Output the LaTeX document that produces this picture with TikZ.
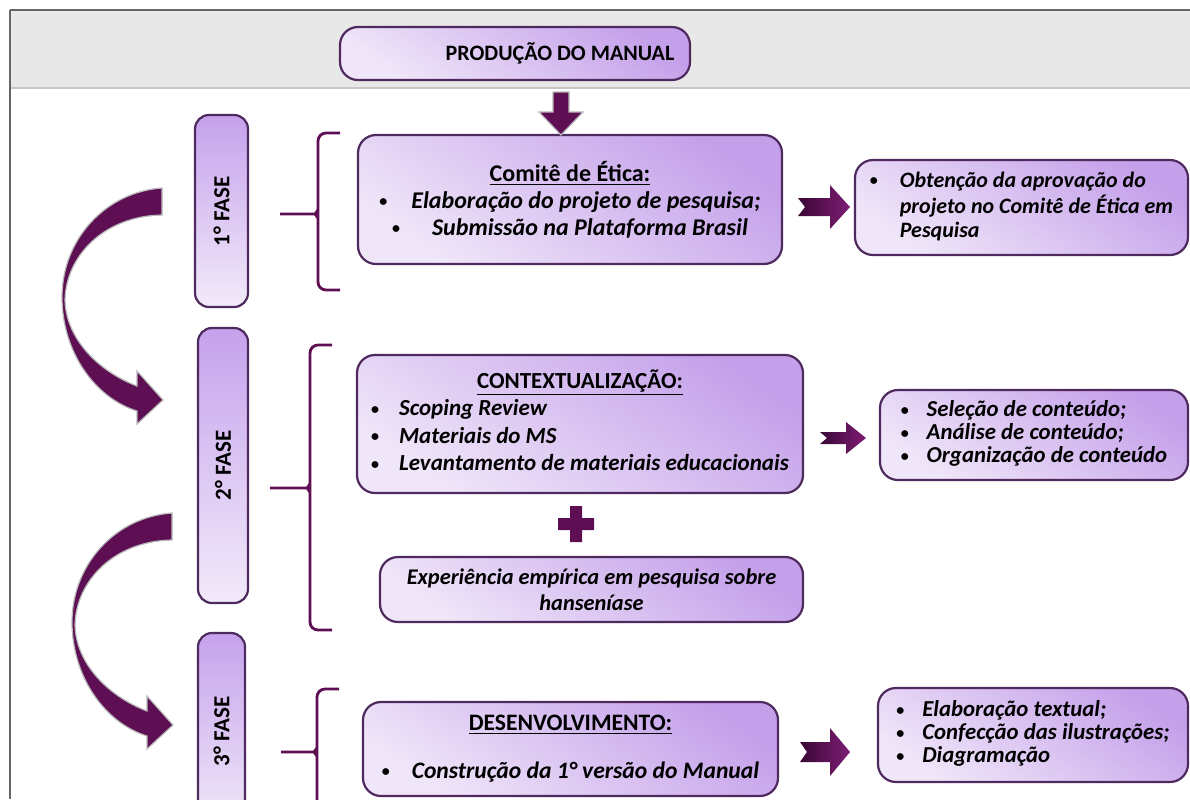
\documentclass[tikz,border=0pt]{standalone}
\usepackage{fontspec}
\setmainfont{Carlito}
\definecolor{boxline}{HTML}{4E2A5E}
\definecolor{boxlo}{HTML}{F0E6F9}
\definecolor{boxhi}{HTML}{C4A0EA}
\definecolor{faseD}{HTML}{C5A2EC}
\definecolor{faseL}{HTML}{F2EAFA}
\definecolor{arrowc}{HTML}{5E0F54}
\definecolor{arrowd}{HTML}{3A0636}
\definecolor{arrowl}{HTML}{7E1E74}
\definecolor{bandgray}{HTML}{E8E8E8}
\newcommand{\itemdot}{\raisebox{0.8pt}{\fontsize{8}{8}\selectfont\textbullet}}

\begin{document}
\begin{tikzpicture}
[x=0.5pt,y=-0.5pt,
  boxDecorate/.style={draw=boxline,line width=1.1pt,rounded corners=9pt,
    top color=boxhi,bottom color=boxlo,shading angle=-35,inner sep=0pt,
    font=\bfseries\fontsize{11}{13}\selectfont},
  faseDecorate/.style={draw=boxline,line width=1.1pt,rounded corners=7pt,rotate=90,
    top color=faseD,bottom color=faseL,inner sep=0pt,
    font=\bfseries\fontsize{11.5}{13}\selectfont},
  braceDecorate/.style={draw=arrowc,line width=1.4pt},
  arrowDecorate/.style={fill=arrowc,draw=gray!55,line width=0.6pt}]
\useasboundingbox (0,0) rectangle (1190,799);
\clip (0,0) rectangle (1190,799);
%% frame and title band
\fill[bandgray] (10,10) rectangle (1190,88);
\draw[gray!45,line width=0.8pt] (10,88) -- (1190,88);
\draw[gray!80!black,line width=0.8pt] (10,10) -- (1190,10) (10,10) -- (10,799);
%% main boxes
\node (prod) at (515,53.5) [boxDecorate,minimum width=175pt,minimum height=26.5pt,
  font=\bfseries\fontsize{11}{13}\selectfont] {\hspace*{45pt}PRODUÇÃO DO MANUAL};
\node (etica) at (570,199.5) [boxDecorate,minimum width=212pt,minimum height=64.5pt,
  align=center,font=\bfseries\fontsize{12}{13.5}\selectfont]
  {\underline{Comitê de Ética:}\\
   \itemdot\hspace{12pt}\textit{Elaboração do projeto de pesquisa;}\\
   \itemdot\hspace{16pt}\textit{Submissão na Plataforma Brasil}};
\node (aprov) at (1021.5,207.5) [boxDecorate,minimum width=166.5pt,minimum height=47.5pt,
  font=\bfseries\fontsize{11}{12}\selectfont]
  {\begin{tabular}{@{}l@{\hspace{11pt}}l@{}}
   \itemdot & \textit{Obtenção da aprovação do}\\
   & \textit{projeto no Comitê de Ética em}\\
   & \textit{Pesquisa}
   \end{tabular}\hspace{6pt}};
\node (contexto) at (580,424) [boxDecorate,minimum width=223pt,minimum height=69pt,
  font=\bfseries\fontsize{11.5}{13.8}\selectfont]
  {\begin{tabular}{@{}l@{\hspace{10pt}}l@{}}
   \multicolumn{2}{@{}c@{}}{\underline{CONTEXTUALIZAÇÃO:}}\\
   \itemdot & \textit{Scoping Review}\\
   \itemdot & \textit{Materiais do MS}\\
   \itemdot & \textit{Levantamento de materiais educacionais}
   \end{tabular}};
\node (exper) at (591.5,589.5) [boxDecorate,minimum width=211.5pt,minimum height=32.5pt,
  align=center,font=\bfseries\itshape\fontsize{11.2}{13}\selectfont]
  {Experiência empírica em pesquisa sobre\\hanseníase};
\node (selecao) at (1034,435) [boxDecorate,minimum width=154pt,minimum height=45pt,
  font=\bfseries\fontsize{11.4}{11.5}\selectfont]
  {\begin{tabular}{@{}l@{\hspace{9pt}}l@{}}
   \itemdot & \textit{Seleção de conteúdo;}\\
   \itemdot & \textit{Análise de conteúdo;}\\
   \itemdot & \textit{Organização de conteúdo}
   \end{tabular}\hspace{9pt}};
\node (desenv) at (570.5,749) [boxDecorate,minimum width=207.5pt,minimum height=47pt,
  font=\bfseries\fontsize{11.8}{13}\selectfont]
  {\begin{tabular}{@{}l@{\hspace{11pt}}l@{}}
   \multicolumn{2}{@{}c@{}}{\underline{DESENVOLVIMENTO:}}\\[11pt]
   \itemdot & \textit{Construção da 1° versão do Manual}
   \end{tabular}};
\node (elabor) at (1033,735) [boxDecorate,minimum width=155pt,minimum height=47pt,
  font=\bfseries\fontsize{11.4}{11.5}\selectfont]
  {\begin{tabular}{@{}l@{\hspace{9pt}}l@{}}
   \itemdot & \textit{Elaboração textual;}\\
   \itemdot & \textit{Confecção das ilustrações;}\\
   \itemdot & \textit{Diagramação}
   \end{tabular}\hspace{12pt}};
%% phase boxes
\foreach \nodename/\x/\y/\len/\wid/\txt in {
  fase1/221.5/211/96pt/26.5pt/1° FASE, fase2/223/465.5/137.5pt/25pt/2° FASE,
  fase3/221.5/731.5/98.5pt/23.5pt/3° FASE}
{
  \node (\nodename) at (\x,\y) [faseDecorate,minimum width=\len,minimum height=\wid] {\txt};
}
%% braces
\foreach \bx/\btop/\bmid/\bbot/\ax in {
  318/133/214/290/280, 310/345/488/630/270, 317/689/752/840/281}
{
  \draw[braceDecorate,rounded corners=4pt] ({\bx+22},\btop) -- (\bx,\btop) -- (\bx,\bbot) -- ({\bx+22},\bbot);
  \draw[braceDecorate] (\ax,\bmid) -- ({\bx-3},\bmid) -- (\bx,{\bmid-4}) (\bx,{\bmid+4}) -- ({\bx-3},\bmid);
}
%% block arrows
\draw[arrowDecorate] (553,92) -- (569,92) -- (569,112) -- (583,112) -- (561,135)
  -- (539,112) -- (553,112) -- cycle;
\foreach \ax/\ay/\al/\sh/\hh in {798/207/52/9/22, 820/438/46/6/16, 800/752/50/10/24}
{
  \shade[left color=arrowd,right color=arrowl] ({\ax+7},\ay) -- (\ax,{\ay-\sh})
    -- ({\ax+\al-20},{\ay-\sh}) -- ({\ax+\al-20},{\ay-\hh}) -- ({\ax+\al},\ay)
    -- ({\ax+\al-20},{\ay+\hh}) -- ({\ax+\al-20},{\ay+\sh}) -- (\ax,{\ay+\sh}) -- cycle;
}
%% plus sign
\fill[arrowc] (558,518) rectangle (594,530) (570,506) rectangle (582,542);
%% curved arrows between phases
\foreach \dx/\dy in {0/0, 10/325}
{
  \draw[arrowDecorate,shift={(\dx,\dy)}] (162,188) .. controls (105,192) and (62,240) .. (62,297)
    .. controls (62,352) and (95,398) .. (137,411) -- (137,424) -- (163,400) -- (137,371)
    -- (137,386) .. controls (100,372) and (66,340) .. (65,300)
    .. controls (66,255) and (105,216) .. (162,215) -- cycle;
}
\end{tikzpicture}
\end{document}
